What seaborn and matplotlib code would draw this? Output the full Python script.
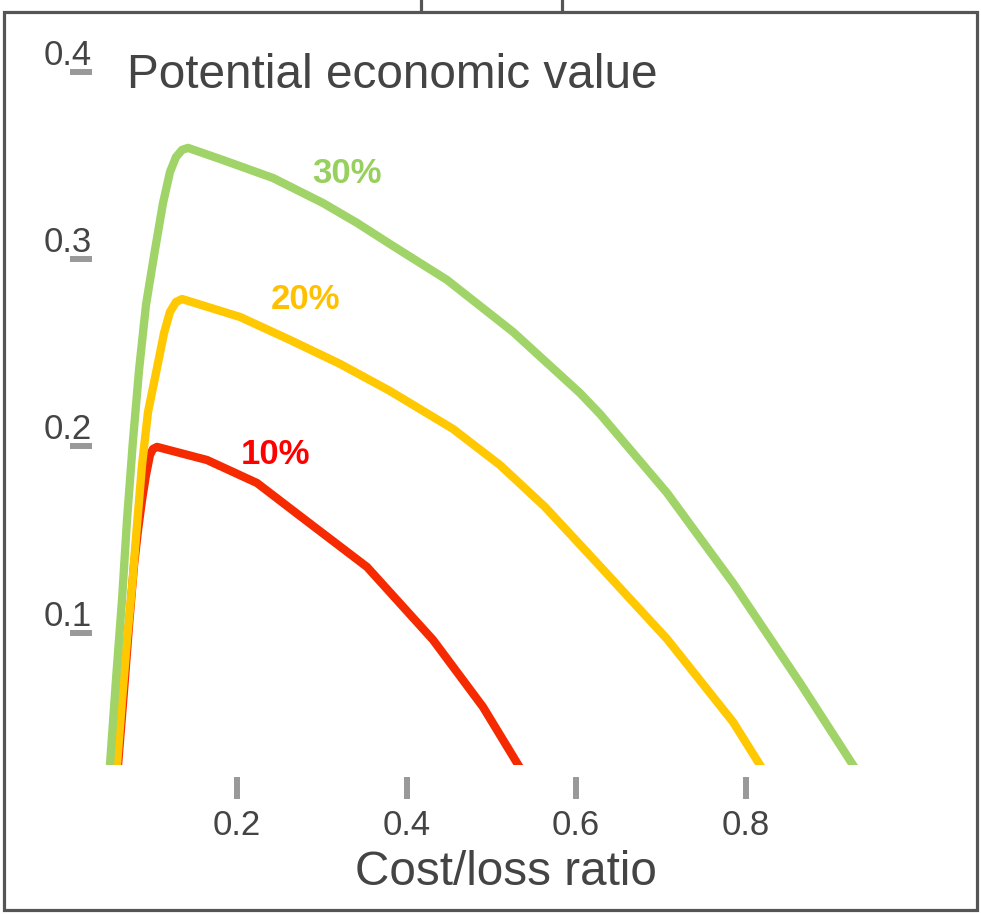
import pandas as pd
import matplotlib
matplotlib.use("Agg")
from matplotlib import pyplot as plt
from matplotlib.patches import Rectangle
from matplotlib.lines import Line2D
import seaborn as sns

# Curve values (cost/loss ratio -> potential economic value)
x_10 = [0.0579, 0.0596, 0.0667, 0.0726, 0.0785, 0.0832, 0.0879, 0.0926, 0.0973,
        0.1009, 0.1056, 0.1646, 0.2236, 0.2743, 0.3534, 0.4313, 0.4903, 0.5304, 0.5445]
y_10 = [0.0200, 0.0294, 0.0695, 0.1043, 0.1364, 0.1551, 0.1711, 0.1845, 0.1952,
        0.1984, 0.1995, 0.1925, 0.1802, 0.1626, 0.1353, 0.0963, 0.0604, 0.0305, 0.0200]

x_20 = [0.0568, 0.0584, 0.0643, 0.0702, 0.0761, 0.0820, 0.0879, 0.0950, 0.1056, 0.1139,
        0.1209, 0.1280, 0.1351, 0.2035, 0.2625, 0.3215, 0.3805, 0.4549, 0.5103,
        0.5634, 0.6236, 0.7074, 0.7853, 0.8171, 0.8301]
y_20 = [0.0200, 0.0294, 0.0642, 0.0963, 0.1246, 0.1578, 0.1898, 0.2182, 0.2417, 0.2604,
        0.2717, 0.2770, 0.2786, 0.2690, 0.2567, 0.2439, 0.2294, 0.2091, 0.1898,
        0.1674, 0.1380, 0.0968, 0.0524, 0.0294, 0.0200]

x_30 = [0.0486, 0.0501, 0.0572, 0.0643, 0.0702, 0.0773, 0.0844, 0.0926, 0.1032, 0.1127,
        0.1209, 0.1280, 0.1351, 0.1422, 0.1835, 0.2425, 0.3015, 0.3416, 0.3805,
        0.4478, 0.5257, 0.6047, 0.6283, 0.7074, 0.7853, 0.8643, 0.9268, 0.9402]
y_30 = [0.0200, 0.0294, 0.0749, 0.1176, 0.1604, 0.2032, 0.2406, 0.2754, 0.3048, 0.3299,
        0.3465, 0.3545, 0.3583, 0.3594, 0.3529, 0.3433, 0.3299, 0.3193, 0.3080,
        0.2888, 0.2610, 0.2283, 0.2171, 0.1749, 0.1267, 0.0733, 0.0294, 0.0200]

series_names = ["10%", "20%", "30%"]
series_colors = ["#F52A00", "#FFC800", "#A0D468"]
label_colors = ["#FF0000", "#FFC000", "#98D05E"]
label_x = [0.2460, 0.2808, 0.3303]
label_y = [0.1955, 0.2785, 0.3457]

x_ticks = [0.2, 0.4, 0.6, 0.8]
y_ticks = [0.1, 0.2, 0.3, 0.4]

df = pd.concat([
    pd.DataFrame({"ratio": x_10, "value": y_10, "rate": "10%"}),
    pd.DataFrame({"ratio": x_20, "value": y_20, "rate": "20%"}),
    pd.DataFrame({"ratio": x_30, "value": y_30, "rate": "30%"}),
], ignore_index=True)

sns.set_theme(style="white")
plt.rcParams["font.family"] = ["Liberation Sans", "DejaVu Sans"]

text_grey = "#444444"
tick_grey = "#999999"

fig = plt.figure(figsize=(9.81, 9.15), dpi=100)
ax = fig.add_axes([92 / 981, 150 / 915, 868 / 981, 725 / 915])

sns.lineplot(data=df, x="ratio", y="value", hue="rate", hue_order=series_names,
             palette=dict(zip(series_names, series_colors)), estimator=None,
             sort=False, linewidth=6, legend=False, ax=ax)
for line in ax.get_lines():
    line.set_solid_joinstyle("round")
    line.set_solid_capstyle("butt")

for name, col, lx, ly in zip(series_names, label_colors, label_x, label_y):
    ax.text(lx, ly, name, color=col, fontsize=25, fontweight="bold",
            ha="center", va="center")

ax.set_xlim(0.0289, 1.0531)
ax.set_ylim(0.0294, 0.4171)
ax.set_xticks(x_ticks)
ax.set_xticklabels([f"{t:.1f}" for t in x_ticks])
ax.set_yticks(y_ticks)
ax.set_yticklabels([f"{t:.1f}" for t in y_ticks])

for side in ["top", "right", "left", "bottom"]:
    ax.spines[side].set_visible(False)
ax.spines["bottom"].set_position(("outward", 8.6))

ax.tick_params(axis="x", direction="out", length=16, width=4.3, color=tick_grey,
               labelsize=25, labelcolor=text_grey, pad=7, bottom=True)
ax.tick_params(axis="y", direction="out", length=16, width=4.3, color=tick_grey,
               labelsize=25, labelcolor=text_grey, pad=-16, left=True)
for lab in ax.get_yticklabels():
    lab.set_verticalalignment("bottom")

ax.set_xlabel("Cost/loss ratio", fontsize=34.3, color=text_grey)
ax.xaxis.set_label_coords(0.477, -0.1655)
ax.xaxis.label.set_verticalalignment("baseline")
ax.set_ylabel("")
ax.set_title("Potential economic value", fontsize=34.4, color=text_grey,
             loc="left", x=0.0403, y=0.9338, pad=0)

# outer frame and the little tab on top
fig.add_artist(Rectangle((4 / 981, 5 / 915), 973 / 981, 898 / 915, fill=False,
                         edgecolor="#555555", linewidth=2.3,
                         transform=fig.transFigure))
for tx in [421 / 981, 562 / 981]:
    fig.add_artist(Line2D([tx, tx], [903 / 915, 1.0], color="#555555",
                          linewidth=2.3, transform=fig.transFigure))

fig.savefig("out.png", dpi=100)
